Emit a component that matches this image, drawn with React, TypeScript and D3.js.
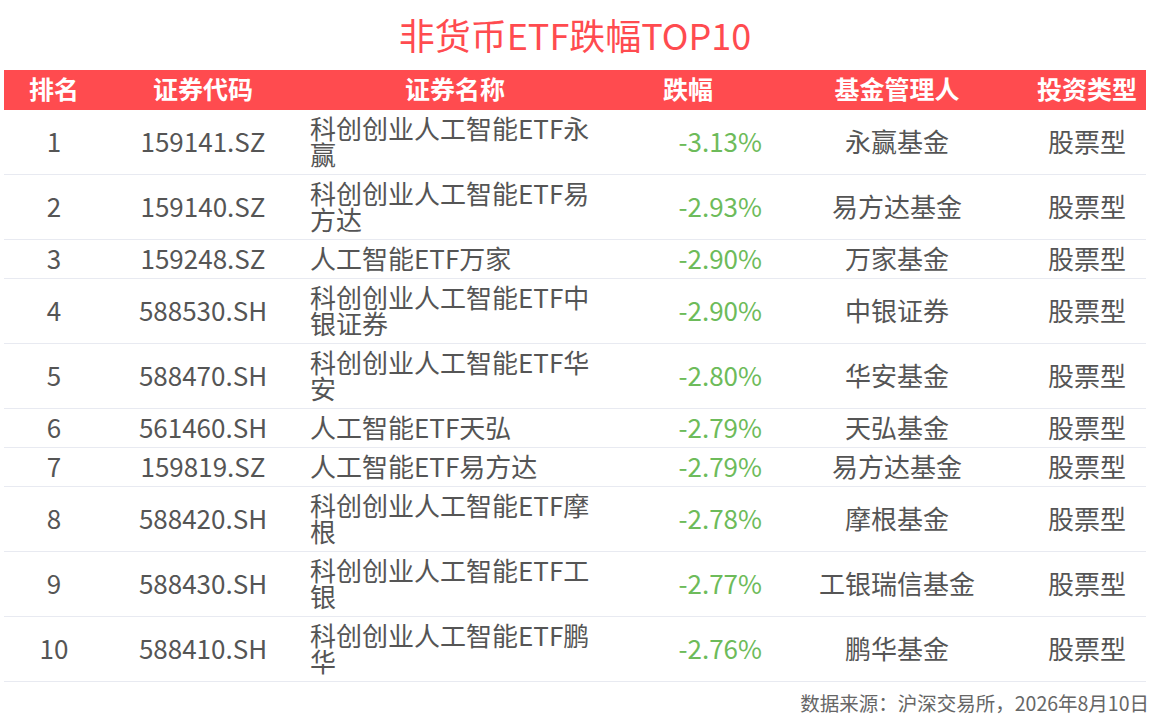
import { useRef, useEffect } from "react";
import * as d3 from "d3";

const title = "非货币ETF跌幅TOP10";
const headers = ["排名", "证券代码", "证券名称", "跌幅", "基金管理人", "投资类型"];
const ranks = [1, 2, 3, 4, 5, 6, 7, 8, 9, 10];
const codes = [
  "159141.SZ",
  "159140.SZ",
  "159248.SZ",
  "588530.SH",
  "588470.SH",
  "561460.SH",
  "159819.SZ",
  "588420.SH",
  "588430.SH",
  "588410.SH",
];
const names = [
  "科创创业人工智能ETF永赢",
  "科创创业人工智能ETF易方达",
  "人工智能ETF万家",
  "科创创业人工智能ETF中银证券",
  "科创创业人工智能ETF华安",
  "人工智能ETF天弘",
  "人工智能ETF易方达",
  "科创创业人工智能ETF摩根",
  "科创创业人工智能ETF工银",
  "科创创业人工智能ETF鹏华",
];
const changes = [-3.13, -2.93, -2.9, -2.9, -2.8, -2.79, -2.79, -2.78, -2.77, -2.76];
const managers = [
  "永赢基金",
  "易方达基金",
  "万家基金",
  "中银证券",
  "华安基金",
  "天弘基金",
  "易方达基金",
  "摩根基金",
  "工银瑞信基金",
  "鹏华基金",
];
const fundTypes = ["股票型", "股票型", "股票型", "股票型", "股票型", "股票型", "股票型", "股票型", "股票型", "股票型"];
const source = "数据来源：沪深交易所，2026年8月10日";

const W = 1150;
const H = 722;
const FONT = "'Noto Sans CJK SC', 'Noto Sans', sans-serif";
const RED = "#ff4b4f";
const GREEN = "#6dbb5a";
const TEXT = "#555555";

export default function App() {
  const svgRef = useRef<SVGSVGElement>(null);

  useEffect(() => {
    if (!svgRef.current) return;
    const svg = d3.select(svgRef.current);
    svg.selectAll("*").remove();

    const left = 4;
    const right = 1146;
    const headTop = 70;
    const headH = 40;
    const fs = 26;
    const lineH = 26;
    const pad = 13;
    const nameX = 310;
    const nameMax = 292;

    // column centres for the header
    const colX = d3
      .scaleOrdinal<string, number>()
      .domain(headers)
      .range([54, 203, 455, 688, 897, 1087]);

    // title
    svg
      .append("text")
      .attr("x", W / 2)
      .attr("y", 50)
      .attr("text-anchor", "middle")
      .attr("fill", RED)
      .attr("font-size", 36)
      .text(title);

    // header bar
    svg
      .append("rect")
      .attr("x", left)
      .attr("y", headTop)
      .attr("width", right - left)
      .attr("height", headH)
      .attr("fill", RED);

    svg
      .append("g")
      .selectAll("text")
      .data(headers)
      .join("text")
      .attr("x", (d) => colX(d))
      .attr("y", headTop + headH / 2 + 9)
      .attr("text-anchor", "middle")
      .attr("fill", "#fff")
      .attr("font-size", 25)
      .attr("font-weight", "bold")
      .text((d) => d);

    // wrap names by measured width
    const probe = svg.append("text").attr("font-size", fs).attr("visibility", "hidden");
    const measure = (s: string) => {
      probe.text(s);
      return (probe.node() as SVGTextElement).getComputedTextLength();
    };
    const wrapped = names.map((n) => {
      const lines: string[] = [];
      let cur = "";
      for (const ch of Array.from(n)) {
        if (cur && measure(cur + ch) > nameMax) {
          lines.push(cur);
          cur = ch;
        } else cur += ch;
      }
      if (cur) lines.push(cur);
      return lines;
    });
    probe.remove();

    const heights = wrapped.map((l) => l.length * lineH + pad);
    const tops = heights.map((_, i) => headTop + headH + d3.sum(heights.slice(0, i)));

    const rows = svg
      .append("g")
      .selectAll("g")
      .data(ranks.map((r, i) => ({ i, r })))
      .join("g")
      .attr("transform", (d) => `translate(0,${tops[d.i]})`);

    rows
      .append("line")
      .attr("x1", left)
      .attr("x2", right)
      .attr("y1", (d) => heights[d.i] - 0.5)
      .attr("y2", (d) => heights[d.i] - 0.5)
      .attr("stroke", "#e8eaf1")
      .attr("stroke-width", 1.2);

    const base = (d: { i: number }) => heights[d.i] / 2 + 0.36 * fs;

    const cell = (x: number, anchor: string, txt: (d: { i: number; r: number }) => string, color = TEXT) =>
      rows
        .append("text")
        .attr("x", x)
        .attr("y", base)
        .attr("text-anchor", anchor)
        .attr("fill", color)
        .attr("font-size", fs)
        .text(txt);

    cell(colX(headers[0]), "middle", (d) => String(d.r));
    cell(colX(headers[1]), "middle", (d) => codes[d.i]);
    cell(762, "end", (d) => `${changes[d.i].toFixed(2)}%`, GREEN);
    cell(colX(headers[4]), "middle", (d) => managers[d.i]);
    cell(colX(headers[5]), "middle", (d) => fundTypes[d.i]);

    rows.each(function (d) {
      const lines = wrapped[d.i];
      const y0 = heights[d.i] / 2 - ((lines.length - 1) * lineH) / 2 + 0.36 * fs;
      d3.select(this)
        .append("text")
        .attr("fill", TEXT)
        .attr("font-size", fs)
        .selectAll("tspan")
        .data(lines)
        .join("tspan")
        .attr("x", nameX)
        .attr("y", (_, k) => y0 + k * lineH)
        .text((l) => l);
    });

    // source note
    svg
      .append("text")
      .attr("x", 1149)
      .attr("y", 711)
      .attr("text-anchor", "end")
      .attr("fill", "#666")
      .attr("font-size", 19.5)
      .text(source);
  }, []);

  return (
    <svg
      ref={svgRef}
      width={W}
      height={H}
      style={{ position: "absolute", left: 0, top: 0, background: "#fff", fontFamily: FONT }}
    />
  );
}
